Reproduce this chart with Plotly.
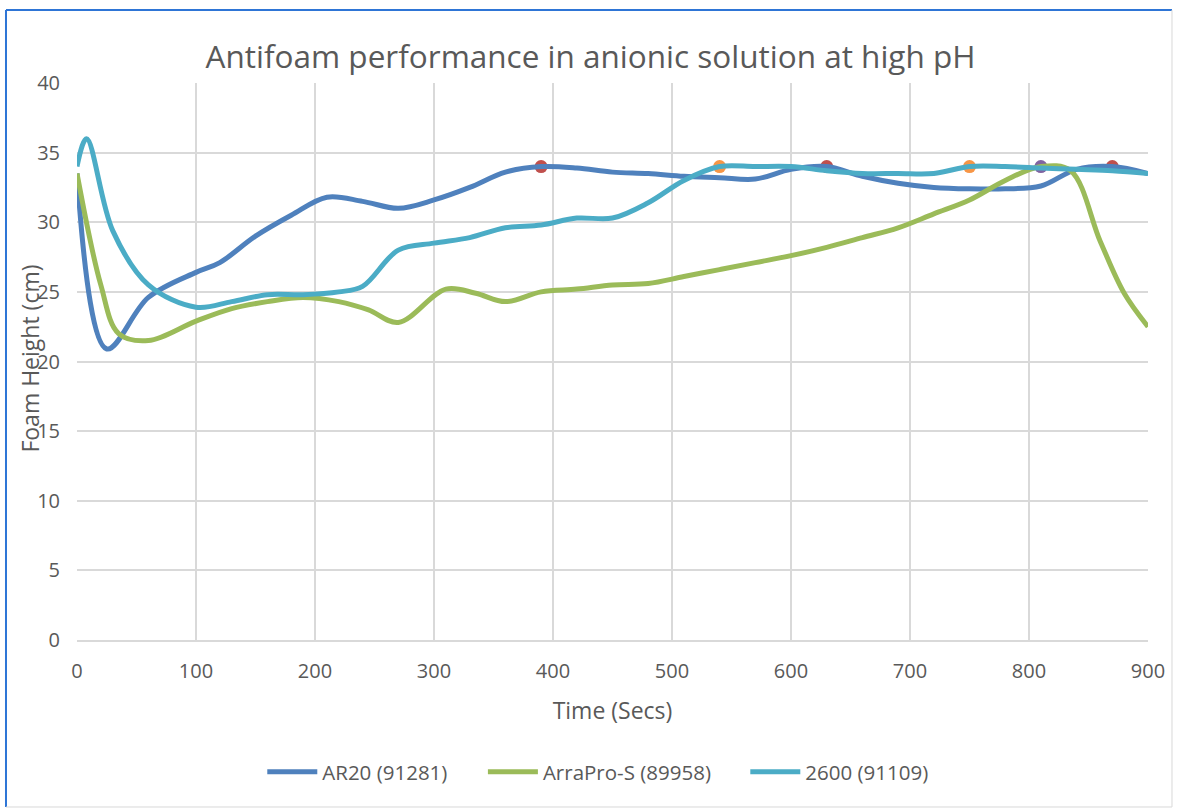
import plotly.graph_objs as go

# Time (Secs) readings for each sample
ar20_time = [0, 25, 60, 100, 120, 150, 180, 210, 240, 270, 300, 330, 360, 390, 420, 450,
             480, 510, 540, 570, 600, 630, 660, 690, 720, 750, 780, 810, 840, 870, 900]
ar20_height = [33.5, 20.9, 24.6, 26.4, 27.1, 29.0, 30.5, 31.8, 31.5, 31.0, 31.6, 32.5, 33.6, 34.0, 33.9, 33.6,
               33.5, 33.3, 33.2, 33.1, 33.8, 34.0, 33.3, 32.8, 32.5, 32.4, 32.4, 32.6, 33.8, 34.0, 33.5]

arrapro_time = [0, 20, 35, 60, 100, 130, 160, 190, 220, 245, 270, 310, 335, 360, 390, 420, 450,
                480, 510, 540, 570, 600, 630, 660, 690, 720, 750, 780, 810, 835, 860, 880, 900]
arrapro_height = [33.5, 25.5, 22.0, 21.5, 22.9, 23.8, 24.3, 24.6, 24.3, 23.7, 22.8, 25.2, 24.9, 24.3, 25.0, 25.2, 25.5,
                  25.6, 26.1, 26.6, 27.1, 27.6, 28.2, 28.9, 29.6, 30.6, 31.6, 33.0, 34.0, 33.7, 28.6, 24.9, 22.5]

s2600_time = [0, 8, 30, 60, 100, 130, 160, 190, 220, 240, 270, 300, 330, 360, 390, 420, 450,
              480, 510, 540, 570, 600, 630, 660, 690, 720, 750, 780, 810, 840, 870, 900]
s2600_height = [34.0, 36.0, 29.4, 25.5, 23.9, 24.3, 24.8, 24.8, 25.0, 25.4, 28.0, 28.5, 28.9, 29.6, 29.8, 30.3, 30.3,
                31.4, 33.0, 34.0, 34.0, 34.0, 33.7, 33.5, 33.5, 33.5, 34.0, 34.0, 33.9, 33.8, 33.7, 33.5]

# single highlighted readings
marker_time = [390, 630, 870, 540, 750, 810]
marker_height = [34, 34, 34, 34, 34, 34]
marker_colors = ['#C0504D', '#C0504D', '#C0504D', '#F79646', '#F79646', '#8064A2']

fig = go.Figure()

for t, h, c in zip(marker_time, marker_height, marker_colors):
    fig.add_trace(go.Scatter(x=[t], y=[h], mode='markers', showlegend=False,
                             marker=dict(color=c, size=13, line_width=0)))

fig.add_trace(go.Scatter(x=ar20_time, y=ar20_height, mode='lines', name='AR20 (91281)', legend='legend',
                         line=dict(color='#4F81BD', width=5, shape='spline', smoothing=1)))
fig.add_trace(go.Scatter(x=arrapro_time, y=arrapro_height, mode='lines', name='ArraPro-S (89958)', legend='legend2',
                         line=dict(color='#9BBB59', width=5, shape='spline', smoothing=1)))
fig.add_trace(go.Scatter(x=s2600_time, y=s2600_height, mode='lines', name='2600 (91109)', legend='legend3',
                         line=dict(color='#4BACC6', width=5, shape='spline', smoothing=1)))

grid = '#D9D9D9'
leg = dict(orientation='h', y=-0.237, yanchor='middle', xanchor='left', font=dict(size=20.5),
           itemwidth=50, bgcolor='rgba(0,0,0,0)')
fig.update_layout(
    width=1181, height=809,
    margin=dict(l=77, r=33, t=83, b=169),
    paper_bgcolor='white', plot_bgcolor='white',
    font=dict(family='Open Sans', color='#595959', size=20),
    title=dict(text='Antifoam performance in anionic solution at high pH', x=0.5, xanchor='center',
               y=0.9295, yanchor='middle', font=dict(size=31.5, color='#595959')),
    legend=dict(leg, x=0.173),
    legend2=dict(leg, x=0.379),
    legend3=dict(leg, x=0.624),
    showlegend=True,
)

fig.update_xaxes(range=[0, 900], dtick=100, showgrid=True, gridcolor=grid, gridwidth=2,
                 zeroline=False, showline=True, linecolor=grid, linewidth=2, ticks='',
                 ticklabelstandoff=12,
                 title=dict(text='Time (Secs)', font=dict(size=23), standoff=20))
fig.update_yaxes(range=[0, 40], dtick=5, showgrid=True, gridcolor=grid, gridwidth=2,
                 zeroline=False, showline=False, ticks='', ticklabelstandoff=16)

fig.add_annotation(text='Foam Height (cm)', textangle=-90, xref='paper', yref='paper',
                   x=-0.044, y=0.505, xanchor='center', yanchor='middle', showarrow=False,
                   font=dict(size=23, color='#595959'))

# chart border
fig.add_shape(type='line', xref='paper', yref='paper', x0=-0.0663, x1=-0.0663, y0=-0.2998, y1=1.131,
              line=dict(color='#2E75D6', width=2))
fig.add_shape(type='line', xref='paper', yref='paper', x0=-0.0663, x1=1.0224, y0=1.131, y1=1.131,
              line=dict(color='#2E75D6', width=2))
fig.add_shape(type='line', xref='paper', yref='paper', x0=1.0224, x1=1.0224, y0=-0.2998, y1=1.131,
              line=dict(color='#D9D9D9', width=1))
fig.add_shape(type='line', xref='paper', yref='paper', x0=-0.0663, x1=1.0224, y0=-0.2998, y1=-0.2998,
              line=dict(color='#D9D9D9', width=1))

fig.write_html("out.html", config={'displayModeBar': False},
               post_script="document.body.style.margin='0px';")
